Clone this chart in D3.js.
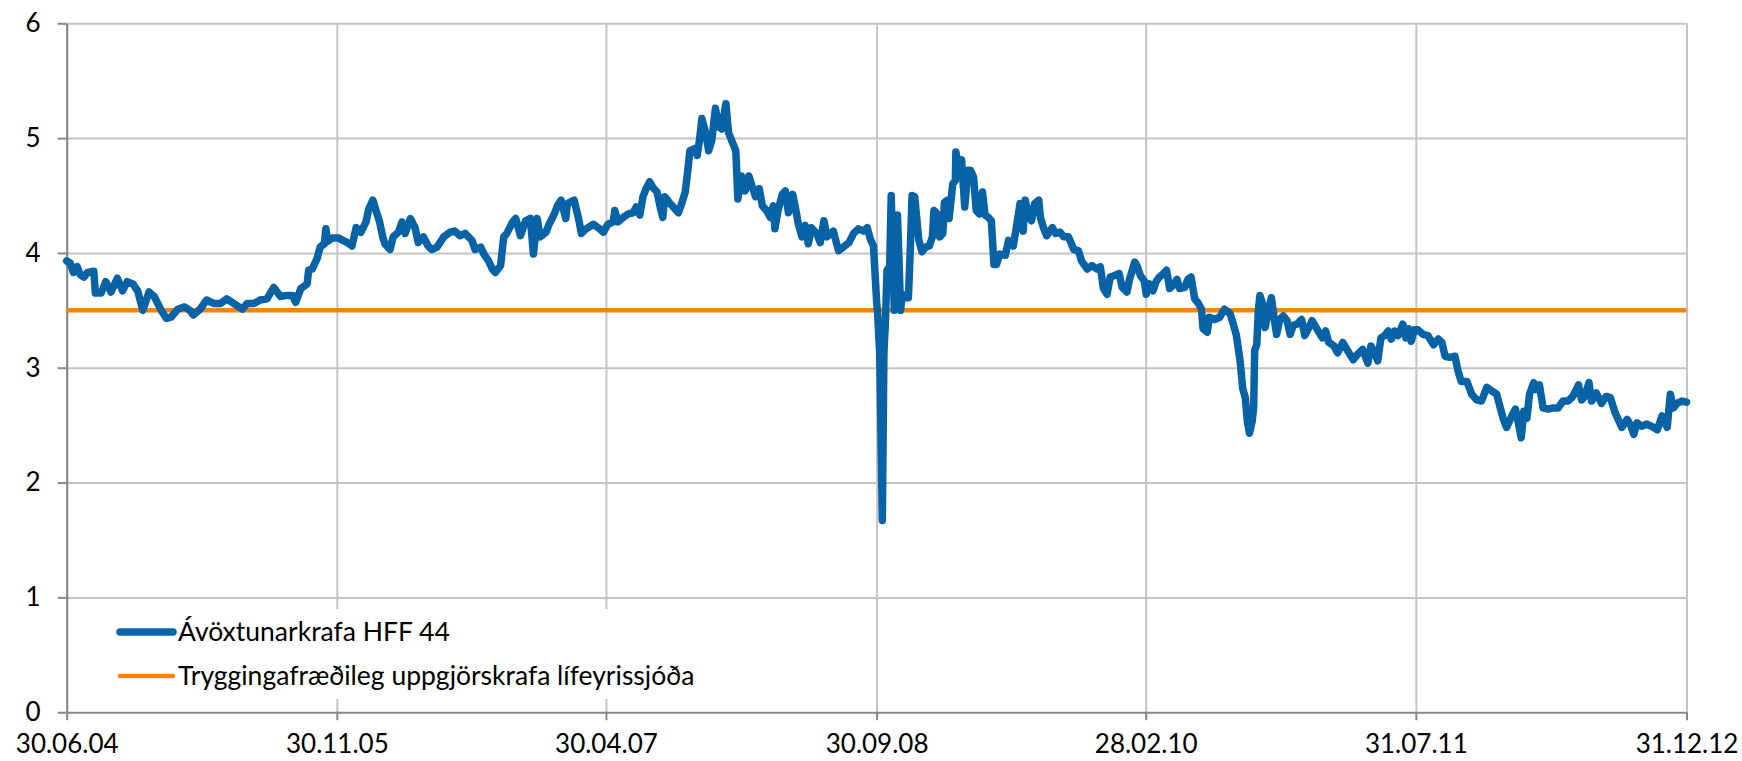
<!DOCTYPE html>
<html>
<head>
<meta charset="utf-8">
<script src="https://cdn.jsdelivr.net/npm/d3@7"></script>
<style>
  body { margin: 0; background: #fff; }
  svg { display: block; font-family: Lato, "Open Sans", sans-serif; }
</style>
</head>
<body>
<script>
// x axis ticks, every 17 months
var tickDates = ["2004-06-30", "2005-11-30", "2007-04-30", "2008-09-30", "2010-02-28", "2011-07-31", "2012-12-31"];
var yTicks = [0, 1, 2, 3, 4, 5, 6];
var seriesNames = ["Ávöxtunarkrafa HFF 44", "Tryggingafræðileg uppgjörskrafa lífeyrissjóða"];
var uppgjorskrafa = 3.5;

// yield of HFF 44
var hff44 = [
  ["2004-06-30",3.93],["2004-07-07",3.91],["2004-07-13",3.83],["2004-07-20",3.88],["2004-07-26",3.81],["2004-08-02",3.79],
  ["2004-08-09",3.83],["2004-08-21",3.84],["2004-08-24",3.65],["2004-09-04",3.65],["2004-09-13",3.75],["2004-09-23",3.66],
  ["2004-10-05",3.78],["2004-10-15",3.67],["2004-10-24",3.75],["2004-11-04",3.73],["2004-11-13",3.67],["2004-11-23",3.50],
  ["2004-12-05",3.66],["2004-12-15",3.62],["2004-12-27",3.51],["2005-01-07",3.43],["2005-01-16",3.44],["2005-01-29",3.51],
  ["2005-02-11",3.53],["2005-02-21",3.50],["2005-02-28",3.46],["2005-03-13",3.51],["2005-03-25",3.59],["2005-04-08",3.56],
  ["2005-04-21",3.56],["2005-05-03",3.60],["2005-05-16",3.56],["2005-06-02",3.51],["2005-06-11",3.56],["2005-06-24",3.56],
  ["2005-07-06",3.59],["2005-07-19",3.60],["2005-08-01",3.70],["2005-08-14",3.62],["2005-08-26",3.63],["2005-09-06",3.63],
  ["2005-09-12",3.57],["2005-09-22",3.69],["2005-10-04",3.73],["2005-10-07",3.85],["2005-10-14",3.86],["2005-10-23",3.95],
  ["2005-10-29",4.05],["2005-11-06",4.08],["2005-11-09",4.21],["2005-11-12",4.10],["2005-11-21",4.13],["2005-12-04",4.13],
  ["2005-12-07",4.12],["2005-12-20",4.09],["2005-12-29",4.06],["2006-01-06",4.22],["2006-01-15",4.18],["2006-01-25",4.27],
  ["2006-01-30",4.38],["2006-02-07",4.46],["2006-02-13",4.37],["2006-02-20",4.27],["2006-02-26",4.14],["2006-03-02",4.08],
  ["2006-03-12",4.03],["2006-03-18",4.14],["2006-03-28",4.18],["2006-04-04",4.27],["2006-04-10",4.17],["2006-04-20",4.30],
  ["2006-04-29",4.22],["2006-05-05",4.09],["2006-05-15",4.14],["2006-05-24",4.06],["2006-05-31",4.03],["2006-06-10",4.05],
  ["2006-06-23",4.14],["2006-07-05",4.18],["2006-07-14",4.19],["2006-07-24",4.15],["2006-08-03",4.17],["2006-08-16",4.11],
  ["2006-08-22",4.03],["2006-09-02",4.05],["2006-09-08",3.99],["2006-09-17",3.93],["2006-09-24",3.86],["2006-09-30",3.83],
  ["2006-10-10",3.89],["2006-10-16",4.14],["2006-10-22",4.17],["2006-11-02",4.27],["2006-11-08",4.30],["2006-11-17",4.15],
  ["2006-11-27",4.28],["2006-12-06",4.30],["2006-12-12",3.99],["2006-12-19",4.30],["2006-12-25",4.14],["2007-01-05",4.18],
  ["2007-01-11",4.25],["2007-01-20",4.33],["2007-01-27",4.41],["2007-02-03",4.46],["2007-02-12",4.30],["2007-02-15",4.43],
  ["2007-02-28",4.46],["2007-03-08",4.31],["2007-03-14",4.17],["2007-03-23",4.21],["2007-04-06",4.25],["2007-04-15",4.22],
  ["2007-04-25",4.18],["2007-05-04",4.25],["2007-05-14",4.27],["2007-05-17",4.37],["2007-05-23",4.27],["2007-06-02",4.31],
  ["2007-06-12",4.34],["2007-06-21",4.35],["2007-06-27",4.40],["2007-07-04",4.33],["2007-07-10",4.49],["2007-07-17",4.57],
  ["2007-07-23",4.62],["2007-07-29",4.57],["2007-08-06",4.53],["2007-08-12",4.40],["2007-08-17",4.31],["2007-08-21",4.49],
  ["2007-08-31",4.43],["2007-09-10",4.38],["2007-09-16",4.35],["2007-09-23",4.44],["2007-09-29",4.53],["2007-10-04",4.72],
  ["2007-10-08",4.89],["2007-10-18",4.91],["2007-10-22",4.85],["2007-10-26",4.97],["2007-10-31",5.17],["2007-11-07",5.05],
  ["2007-11-13",4.89],["2007-11-19",4.98],["2007-11-26",5.26],["2007-12-02",5.10],["2007-12-08",5.08],["2007-12-16",5.30],
  ["2007-12-21",5.05],["2007-12-27",4.98],["2008-01-04",4.89],["2008-01-08",4.47],["2008-01-15",4.67],["2008-01-22",4.54],
  ["2008-01-29",4.67],["2008-02-05",4.57],["2008-02-11",4.49],["2008-02-18",4.56],["2008-02-24",4.41],["2008-03-03",4.37],
  ["2008-03-10",4.31],["2008-03-16",4.41],["2008-03-19",4.21],["2008-03-25",4.37],["2008-04-02",4.51],["2008-04-08",4.54],
  ["2008-04-14",4.35],["2008-04-22",4.51],["2008-04-27",4.40],["2008-05-03",4.25],["2008-05-10",4.14],["2008-05-16",4.24],
  ["2008-05-22",4.08],["2008-05-28",4.22],["2008-06-07",4.17],["2008-06-14",4.09],["2008-06-21",4.28],["2008-06-27",4.14],
  ["2008-07-09",4.19],["2008-07-19",4.02],["2008-07-28",4.05],["2008-08-08",4.09],["2008-08-17",4.17],["2008-08-26",4.21],
  ["2008-09-05",4.19],["2008-09-12",4.22],["2008-09-18",4.12],["2008-09-24",4.06],["2008-09-30",3.58],["2008-10-02",3.47],
  ["2008-10-06",3.12],["2008-10-11",1.67],["2008-10-14",3.12],["2008-10-17",3.41],["2008-10-20",3.85],["2008-10-25",3.88],
  ["2008-10-28",4.50],["2008-11-03",3.50],["2008-11-06",3.85],["2008-11-09",4.33],["2008-11-12",3.93],["2008-11-15",3.50],
  ["2008-11-18",3.64],["2008-11-25",3.61],["2008-11-30",3.61],["2008-12-04",4.08],["2008-12-07",4.50],["2008-12-12",4.49],
  ["2008-12-20",4.11],["2008-12-26",4.01],["2009-01-02",4.05],["2009-01-09",4.06],["2009-01-15",4.14],["2009-01-18",4.37],
  ["2009-01-24",4.34],["2009-01-29",4.14],["2009-02-04",4.17],["2009-02-07",4.44],["2009-02-13",4.46],["2009-02-16",4.30],
  ["2009-02-23",4.60],["2009-02-28",4.63],["2009-03-01",4.88],["2009-03-05",4.78],["2009-03-12",4.81],["2009-03-18",4.40],
  ["2009-03-24",4.72],["2009-03-29",4.72],["2009-04-04",4.66],["2009-04-09",4.37],["2009-04-15",4.34],["2009-04-21",4.53],
  ["2009-04-26",4.33],["2009-05-02",4.31],["2009-05-08",4.28],["2009-05-13",3.90],["2009-05-18",3.90],["2009-05-24",3.99],
  ["2009-06-04",3.98],["2009-06-10",4.11],["2009-06-19",4.06],["2009-06-26",4.25],["2009-07-02",4.43],["2009-07-08",4.19],
  ["2009-07-12",4.46],["2009-07-18",4.33],["2009-07-24",4.28],["2009-07-30",4.43],["2009-08-07",4.46],["2009-08-10",4.31],
  ["2009-08-16",4.22],["2009-08-22",4.15],["2009-09-02",4.22],["2009-09-08",4.17],["2009-09-17",4.18],["2009-09-24",4.14],
  ["2009-10-03",4.14],["2009-10-13",4.03],["2009-10-22",4.02],["2009-10-28",3.93],["2009-11-08",3.86],["2009-11-17",3.89],
  ["2009-11-27",3.86],["2009-12-03",3.88],["2009-12-09",3.69],["2009-12-16",3.64],["2009-12-22",3.79],["2009-12-28",3.80],
  ["2010-01-08",3.82],["2010-01-14",3.70],["2010-01-23",3.66],["2010-01-28",3.77],["2010-02-07",3.92],["2010-02-12",3.88],
  ["2010-02-18",3.80],["2010-02-25",3.76],["2010-03-01",3.64],["2010-03-07",3.73],["2010-03-14",3.67],["2010-03-20",3.75],
  ["2010-03-26",3.79],["2010-04-03",3.82],["2010-04-09",3.85],["2010-04-15",3.69],["2010-04-22",3.72],["2010-04-29",3.77],
  ["2010-05-04",3.69],["2010-05-14",3.70],["2010-05-20",3.77],["2010-05-26",3.79],["2010-06-02",3.60],["2010-06-09",3.56],
  ["2010-06-15",3.51],["2010-06-18",3.34],["2010-06-26",3.31],["2010-06-30",3.44],["2010-07-10",3.42],["2010-07-20",3.44],
  ["2010-07-29",3.51],["2010-08-09",3.47],["2010-08-15",3.38],["2010-08-21",3.28],["2010-08-28",3.06],["2010-09-02",2.82],
  ["2010-09-07",2.74],["2010-09-11",2.53],["2010-09-15",2.43],["2010-09-20",2.53],["2010-09-23",2.65],["2010-09-25",3.15],
  ["2010-09-29",3.20],["2010-10-02",3.50],["2010-10-05",3.63],["2010-10-10",3.56],["2010-10-15",3.35],["2010-10-20",3.47],
  ["2010-10-27",3.61],["2010-11-02",3.41],["2010-11-06",3.29],["2010-11-12",3.42],["2010-11-19",3.45],["2010-11-26",3.41],
  ["2010-12-02",3.29],["2010-12-08",3.37],["2010-12-15",3.38],["2010-12-24",3.42],["2010-12-30",3.28],["2011-01-07",3.35],
  ["2011-01-13",3.41],["2011-01-22",3.34],["2011-02-02",3.26],["2011-02-08",3.32],["2011-02-14",3.22],["2011-02-24",3.19],
  ["2011-03-03",3.13],["2011-03-13",3.22],["2011-03-22",3.15],["2011-04-02",3.07],["2011-04-11",3.12],["2011-04-20",3.16],
  ["2011-04-30",3.04],["2011-05-06",3.19],["2011-05-13",3.13],["2011-05-19",3.06],["2011-05-25",3.26],["2011-06-01",3.28],
  ["2011-06-08",3.32],["2011-06-14",3.25],["2011-06-20",3.32],["2011-06-27",3.28],["2011-07-06",3.38],["2011-07-12",3.26],
  ["2011-07-17",3.34],["2011-07-22",3.23],["2011-07-28",3.33],["2011-08-04",3.33],["2011-08-14",3.29],["2011-08-23",3.28],
  ["2011-09-03",3.20],["2011-09-12",3.25],["2011-09-19",3.22],["2011-09-25",3.10],["2011-10-04",3.09],["2011-10-14",3.10],
  ["2011-10-20",2.97],["2011-10-26",2.88],["2011-11-06",2.88],["2011-11-15",2.77],["2011-11-25",2.72],["2011-12-04",2.71],
  ["2011-12-14",2.83],["2011-12-23",2.80],["2012-01-02",2.77],["2012-01-09",2.65],["2012-01-15",2.55],["2012-01-21",2.48],
  ["2012-01-31",2.58],["2012-02-07",2.64],["2012-02-13",2.51],["2012-02-18",2.39],["2012-02-23",2.62],["2012-02-29",2.56],
  ["2012-03-05",2.77],["2012-03-13",2.87],["2012-03-18",2.81],["2012-03-24",2.85],["2012-03-31",2.65],["2012-04-10",2.64],
  ["2012-04-19",2.65],["2012-04-29",2.65],["2012-05-08",2.71],["2012-05-18",2.71],["2012-05-27",2.75],["2012-06-07",2.85],
  ["2012-06-13",2.72],["2012-06-19",2.75],["2012-06-27",2.87],["2012-07-02",2.71],["2012-07-11",2.78],["2012-07-21",2.69],
  ["2012-07-30",2.75],["2012-08-07",2.74],["2012-08-16",2.61],["2012-08-22",2.55],["2012-08-29",2.48],["2012-09-08",2.55],
  ["2012-09-14",2.51],["2012-09-21",2.42],["2012-09-27",2.52],["2012-10-06",2.49],["2012-10-16",2.51],["2012-10-25",2.49],
  ["2012-11-05",2.46],["2012-11-14",2.58],["2012-11-24",2.48],["2012-11-30",2.77],["2012-12-06",2.65],["2012-12-13",2.69],
  ["2012-12-22",2.71],["2012-12-31",2.70]
];

var width = 1742, height = 761;
var plotLeft = 66.7, plotRight = 1686.5, plotTop = 23.3, plotBottom = 712.2;
var blue = "#0862a6", orange = "#ff8200", gridColor = "#c4c4c4", axisColor = "#878787";

var parse = d3.timeParse("%Y-%m-%d");
var tickValues = tickDates.map(parse);

var svg = d3.select("body")
    .append("svg")
    .attr("width", width)
    .attr("height", height);

var x = d3.scaleTime()
    .domain([tickValues[0], tickValues[tickValues.length - 1]])
    .range([plotLeft, plotRight]);

var y = d3.scaleLinear()
    .domain([0, 6])
    .range([plotBottom, plotTop]);

// gridlines
var xGrid = svg.append("g")
    .attr("transform", "translate(0," + plotBottom + ")")
    .call(d3.axisBottom(x).tickValues(tickValues).tickSize(-(plotBottom - plotTop)).tickFormat(""));
xGrid.select(".domain").remove();
xGrid.selectAll("line").attr("stroke", gridColor).attr("stroke-width", 2);

var yGrid = svg.append("g")
    .attr("transform", "translate(" + plotLeft + ",0)")
    .call(d3.axisLeft(y).tickValues(yTicks.slice(1)).tickSize(-(plotRight - plotLeft)).tickFormat(""));
yGrid.select(".domain").remove();
yGrid.selectAll("line").attr("stroke", gridColor).attr("stroke-width", 2);

// axes
var xAxis = svg.append("g")
    .attr("transform", "translate(0," + plotBottom + ")")
    .call(d3.axisBottom(x).tickValues(tickValues).tickSize(8).tickSizeOuter(0).tickPadding(14)
        .tickFormat(d3.timeFormat("%d.%m.%y")));

var yAxis = svg.append("g")
    .attr("transform", "translate(" + plotLeft + ",0)")
    .call(d3.axisLeft(y).tickValues(yTicks).tickSize(9).tickSizeOuter(0).tickPadding(17)
        .tickFormat(d3.format("d")));

[xAxis, yAxis].forEach(function (g) {
    g.select(".domain").attr("stroke", axisColor).attr("stroke-width", 2);
    g.selectAll(".tick line").attr("stroke", axisColor).attr("stroke-width", 2);
    g.selectAll("text")
        .attr("fill", "#000")
        .style("font-size", "26px")
        .style("font-family", "Lato, 'Open Sans', sans-serif");
});

// series
var line = d3.line()
    .x(function (d) { return x(parse(d[0])); })
    .y(function (d) { return y(d[1]); });

svg.append("path")
    .datum([[tickDates[0], uppgjorskrafa], [tickDates[tickDates.length - 1], uppgjorskrafa]])
    .attr("d", line)
    .attr("fill", "none")
    .attr("stroke", orange)
    .attr("stroke-width", 4.5);

svg.append("path")
    .datum(hff44)
    .attr("d", line)
    .attr("fill", "none")
    .attr("stroke", blue)
    .attr("stroke-width", 7.5)
    .attr("stroke-linejoin", "round")
    .attr("stroke-linecap", "round");

// legend
var legend = svg.append("g");
legend.append("rect")
    .attr("x", 108)
    .attr("y", 609)
    .attr("width", 620)
    .attr("height", 90)
    .attr("fill", "#fff");

var legendItems = [
    { name: seriesNames[0], color: blue, w: 7.5, y: 632 },
    { name: seriesNames[1], color: orange, w: 4.5, y: 676 }
];

legendItems.forEach(function (item) {
    legend.append("line")
        .attr("x1", 120).attr("x2", 173)
        .attr("y1", item.y).attr("y2", item.y)
        .attr("stroke", item.color)
        .attr("stroke-width", item.w)
        .attr("stroke-linecap", "round");
    legend.append("text")
        .attr("x", 178)
        .attr("y", item.y)
        .attr("dy", "0.35em")
        .style("font-size", "26.5px")
        .text(item.name);
});
</script>
</body>
</html>
